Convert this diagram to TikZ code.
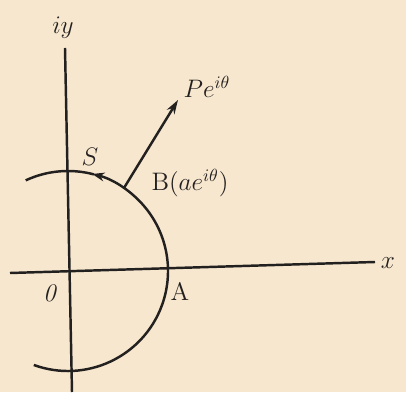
\documentclass[tikz,border=0pt]{standalone}
\usepackage{amsmath}
\usetikzlibrary{arrows.meta}
\definecolor{paper}{RGB}{247,231,206}
\definecolor{ink}{RGB}{35,32,32}

\begin{document}
\begin{tikzpicture}[scale=2,
  curve/.style={ink, line width=1.4pt},
  lbl/.style={ink, font=\Large}]
  % Paper background (fixes the margins)
  \fill[paper] (-0.68,-1.21) rectangle (3.38,2.71);
  % Draw the axes
  \coordinate (O) at (0,0);
  \coordinate (xstart) at (-0.58,-0.02);
  \coordinate (xend) at (3.07,0.09);
  \coordinate (ystart) at (0.04,-1.21);
  \coordinate (yend) at (-0.03,2.23);
  \draw[curve] (xstart) -- (xend);
  \draw[curve] (ystart) -- (yend);
  \node[lbl] (xlab) at (3.20,0.08) {$x$};
  \node[lbl] (ylab) at (-0.05,2.43) {$iy$};
  \node[lbl] (Olab) at (-0.18,-0.22) {\textit{0}};
  % Draw the circle, counterclockwise with an arrow at S
  \draw[curve, -{Stealth[length=7pt,width=5pt]}] (-110:1) arc (-110:76:1);
  \draw[curve] (75:1) arc (75:115:1);
  % Radial arrow from B
  \coordinate (B) at (56:1);
  \coordinate (Ptip) at (1.10,1.71);
  \draw[curve, -{Stealth[length=8pt,width=5pt]}] (B) -- (Ptip);
  % Labels
  \node[lbl] (Plab) at (1.39,1.84) {$Pe^{i\theta}$};
  \node[lbl] (Blab) at (1.22,0.88) {$\mathrm{B}(ae^{i\theta})$};
  \node[lbl] (Slab) at (0.22,1.14) {$S$};
  \node[lbl] (Alab) at (1.12,-0.21) {$\mathrm{A}$};
\end{tikzpicture}
\end{document}
